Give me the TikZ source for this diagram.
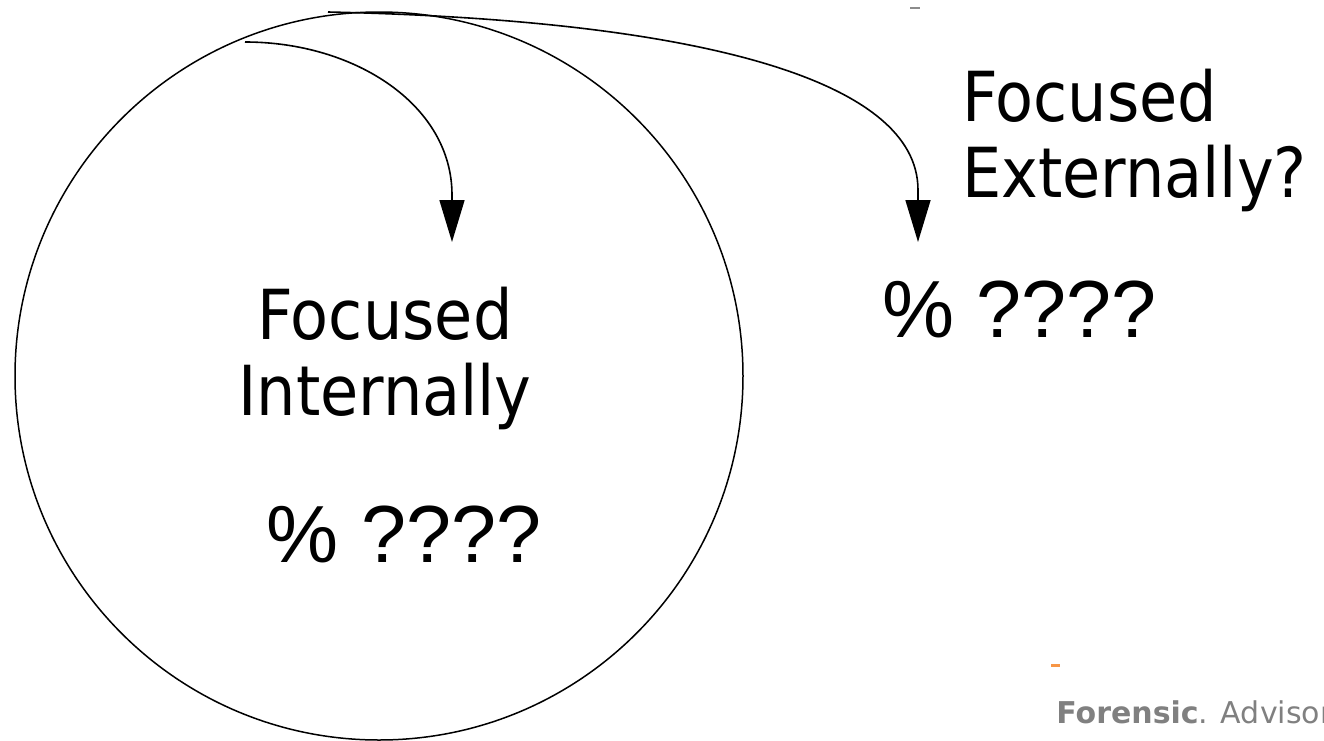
\documentclass[tikz,border=0pt]{standalone}
\usepackage{fontspec}
\setmainfont{Liberation Sans}
\newfontfamily\labelfont{DejaVu Sans Condensed}
\newfontfamily\footfont{DejaVu Sans}
\usetikzlibrary{arrows.meta}
\definecolor{footC}{HTML}{808080}
\definecolor{dashC}{HTML}{F79646}
\tikzset{
  lbl/.style={font=\labelfont\fontsize{34.5}{38}\selectfont, inner sep=0pt},
  pct/.style={font=\fontsize{40.5}{45}\selectfont, inner sep=0pt},
  flow/.style={-{Triangle[length=21pt,width=12.5pt]}, line width=0.8pt},
}
\begin{document}
\begin{tikzpicture}[x=0.5pt,y=-0.5pt]
\useasboundingbox (0,0) rectangle (1324,740);
\clip (0,0) rectangle (1324,740);
% the inner circle and its labels
\node[draw, circle, line width=0.75pt, minimum size=364pt, inner sep=0pt] (inner) at (379,376) {};
\node[lbl, align=center, anchor=base] (intLabel) at (385,415) {Focused\\Internally};
\node[pct, anchor=base] (intPct) at (404,562) {\% ????};
% outside the circle
\node[lbl, align=left, anchor=base west] (extLabel) at (962,197) {Focused\\Externally?};
\node[pct, anchor=base west] (extPct) at (882,337) {\% ????};
% arrows
\coordinate (intStart) at (245,42);
\coordinate (intBend)  at (452,195);
\coordinate (intTip)   at (452,242);
\coordinate (extStart) at (328,12);
\coordinate (extBend)  at (918,190);
\coordinate (extTip)   at (918,242);
\draw[flow] (intStart) .. controls (355,42) and (452,105) .. (intBend) -- (intTip);
\draw[flow] (extStart) .. controls (700,20) and (918,80) .. (extBend) -- (extTip);
% template marks and footer
\fill[black!45] (910,7) rectangle (920,9);
\fill[dashC] (1051,664) rectangle (1060,667);
\node[anchor=base west, inner sep=0pt, font=\footfont\fontsize{15}{18}\selectfont, text=footC] (footer) at (1056,723) {\textbf{Forensic}. Advisory};
\end{tikzpicture}
\end{document}
